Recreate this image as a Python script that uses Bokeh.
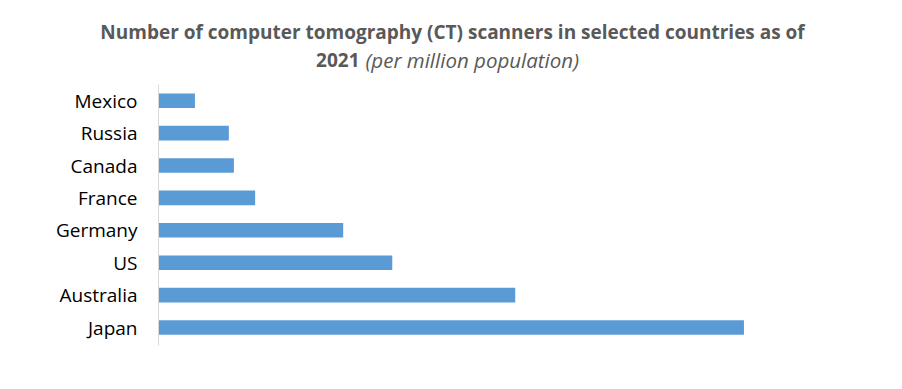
from bokeh.plotting import figure
from bokeh.models import Label, Range1d, ColumnDataSource, FixedTicker, LinearAxis
from bokeh.embed import file_html
from bokeh.resources import INLINE

countries = ["Mexico", "Russia", "Canada", "France", "Germany", "US", "Australia", "Japan"]
values = [7.2, 13.9, 14.9, 19.1, 36.5, 46.2, 70.5, 115.7]
title_line1 = "Number of computer tomography (CT) scanners in selected countries as of"
title_year = "2021"
title_unit = "(per million population)"

W, H = 902, 389
n = len(countries)
# position index: Japan (last) at bottom = 0, Mexico (first) at top = n-1
pos = [n - 1 - i for i in range(n)]
src = ColumnDataSource(dict(country=countries, value=values, pos=pos))

# layout geometry (pixels)
x0_px = 158.0        # canvas x of value 0
px_per_unit = 5.06
y0_px = 327.0        # canvas y of bottom category centre
pitch = 32.4

x_start = -x0_px / px_per_unit
x_end = (W - x0_px) / px_per_unit
y_start = -(H - y0_px) / pitch
y_end = y_start + H / pitch

p = figure(width=W, height=H, y_range=Range1d(y_start, y_end),
           x_range=Range1d(x_start, x_end), output_backend="svg", toolbar_location=None,
           x_axis_location=None, y_axis_location=None,
           min_border=0, min_border_left=0, min_border_right=0,
           min_border_top=0, min_border_bottom=0)
p.hbar(y="pos", right="value", left=0, height=0.45, source=src,
       fill_color="#5B9BD5", line_color=None)

p.xgrid.visible = False
p.ygrid.visible = False
p.outline_line_color = None
p.background_fill_color = "white"
p.border_fill_color = "white"

ya = LinearAxis(fixed_location=0)
ya.ticker = FixedTicker(ticks=pos)
ya.major_label_overrides = {pv: c for pv, c in zip(pos, countries)}
ya.bounds = (-0.55, n - 0.5)
ya.axis_line_color = "#d9d9d9"
ya.axis_line_width = 1
ya.major_tick_line_color = None
ya.minor_tick_line_color = None
ya.major_label_standoff = 15
ya.major_label_text_font = "Open Sans"
ya.major_label_text_font_size = "19px"
ya.major_label_text_color = "#000000"
p.add_layout(ya, "left")

def up(canvas_y):
    return H - canvas_y

p.add_layout(Label(x=452, y=up(31), x_units="screen", y_units="screen",
                   text=title_line1, text_align="center", text_baseline="middle",
                   text_font="Open Sans", text_font_style="bold", text_font_size="19px",
                   text_color="#595959"))
p.add_layout(Label(x=359, y=up(59), x_units="screen", y_units="screen",
                   text=title_year, text_align="right", text_baseline="middle",
                   text_font="Open Sans", text_font_style="bold", text_font_size="19px",
                   text_color="#595959"))
p.add_layout(Label(x=365, y=up(59), x_units="screen", y_units="screen",
                   text=title_unit, text_align="left", text_baseline="middle",
                   text_font="Open Sans", text_font_style="italic", text_font_size="20.5px",
                   text_color="#595959"))

open("out.html", "w").write(file_html(p, INLINE))
